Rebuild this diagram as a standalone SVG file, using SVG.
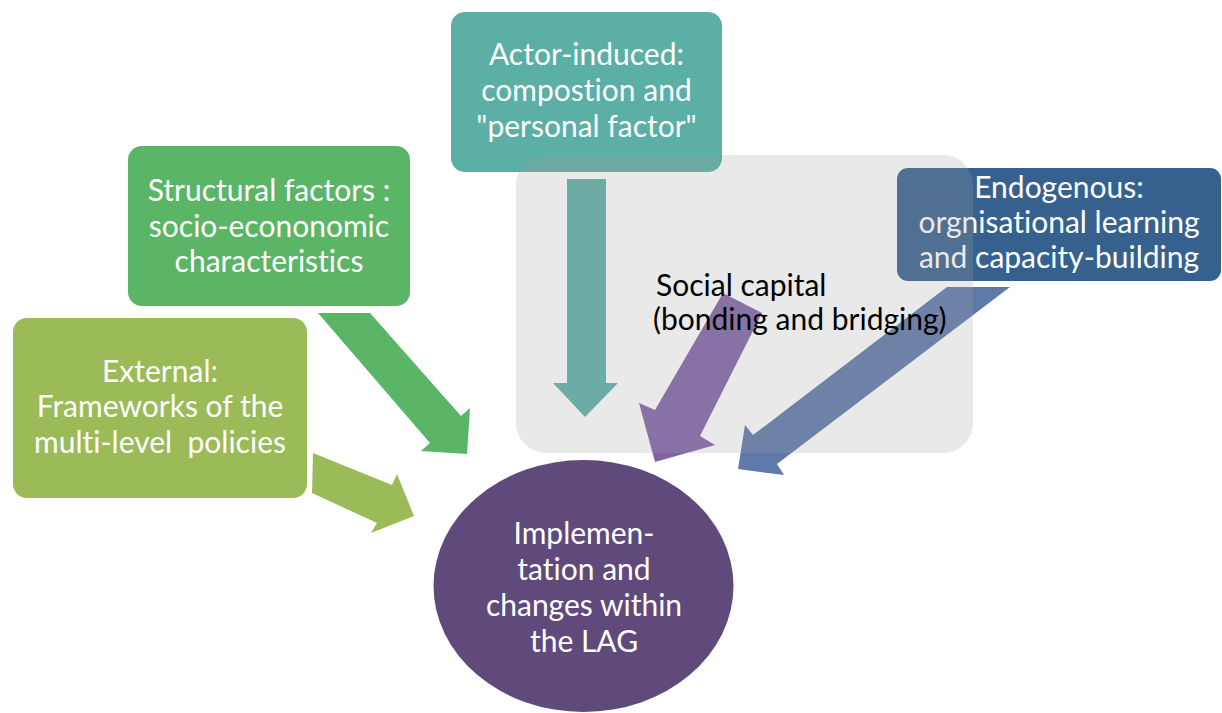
<svg xmlns="http://www.w3.org/2000/svg" width="1222" height="713" viewBox="0 0 1222 713">
<style>
.box{stroke:#ffffff;stroke-width:2}
text{font-family:Lato,"Open Sans",sans-serif;font-variant-ligatures:none;font-feature-settings:"liga" 0;white-space:pre}
.lbl{font-size:30px;fill:#ffffff;text-anchor:middle}
.sc{font-size:30px;fill:#000000}
</style>
<rect width="1222" height="713" fill="#ffffff"/>
<g id="node-external">
<rect class="box" x="12" y="317" width="296" height="182" rx="15" fill="#9bbb59"/>
<text class="lbl" x="160" y="382">External:</text>
<text class="lbl" x="160" y="417">Frameworks of the</text>
<text class="lbl" x="160" y="453" xml:space="preserve">multi-level  policies</text>
</g>
<g id="node-structural">
<rect class="box" x="127" y="145" width="284" height="162" rx="15" fill="#5bb566"/>
<text class="lbl" x="269" y="201">Structural factors :</text>
<text class="lbl" x="269" y="237">socio-econonomic</text>
<text class="lbl" x="269" y="272">characteristics</text>
</g>
<g id="node-actor">
<rect class="box" x="450" y="11" width="273" height="162" rx="15" fill="#5bafa5"/>
<text class="lbl" x="586.5" y="65">Actor-induced:</text>
<text class="lbl" x="586.5" y="101">compostion and</text>
<text class="lbl" x="586.5" y="137">"personal factor"</text>
</g>
<g id="node-endogenous">
<rect class="box" x="896" y="167" width="326" height="115" rx="12" fill="#36618f"/>
<text class="lbl" x="1059" y="198">Endogenous:</text>
<text class="lbl" x="1059" y="233">orgnisational learning</text>
<text class="lbl" x="1059" y="268">and capacity-building</text>
</g>
<g id="node-lag">
<ellipse cx="583.5" cy="586" rx="150" ry="126" fill="#604a7b"/>
<text class="lbl" x="584" y="544">Implemen-</text>
<text class="lbl" x="584" y="580">tation and</text>
<text class="lbl" x="584" y="616">changes within</text>
<text class="lbl" x="584" y="652">the LAG</text>
</g>
<g id="connectors">
<polygon points="318,313 370,313 461,416 470,408 467,454 421,451 430,443" fill="#5bb566"/>
<polygon points="313,453 392,485 397,474 414,516 371,533 377,523 312,493" fill="#9bbb59"/>
<polygon points="567,179 606,179 606,383 618,383 585,417 553,383 567,383" fill="#5eb0a7"/>
<polygon points="723,293 762,313 700,436 715,445 655,462 639,403 655,410" fill="#8064a6"/>
<polygon points="947,287 1010,287 777,464 784,475 738,469 745,425 753,435" fill="#5f79ab"/>
</g>
<g id="node-social">
<rect x="516" y="155" width="457" height="298" rx="30" fill="#a1a1a1" fill-opacity="0.234"/>
<text class="sc" x="656" y="296">Social capital</text>
<text class="sc" x="653" y="330">(bonding and bridging)</text>
</g>
</svg>
